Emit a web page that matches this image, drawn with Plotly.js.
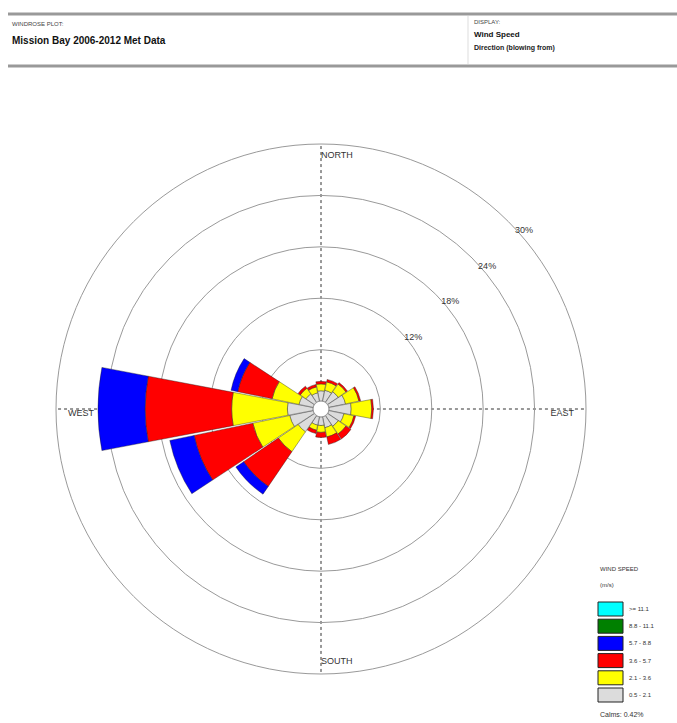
<!DOCTYPE html>
<html>
<head>
<meta charset="utf-8">
<script src="https://cdn.plot.ly/plotly-3.0.1.min.js"></script>
<style>
html,body{margin:0;padding:0;background:#fff;}
#chart{width:677px;height:723px;}
</style>
</head>
<body>
<div id="chart"></div>
<script>
// ---- data ----
const directions = ['N','NNE','NE','ENE','E','ESE','SE','SSE','S','SSW','SW','WSW','W','WNW','NW','NNW'];
const directionDegrees = [0,22.5,45,67.5,90,112.5,135,157.5,180,202.5,225,247.5,270,292.5,315,337.5];
const speedClasses = ['0.5 - 2.1','2.1 - 3.6','3.6 - 5.7','5.7 - 8.8','8.8 - 11.1','>= 11.1'];
const classColors = ['#DCDCDC','#FFFF00','#FF0000','#0000FF','#008000','#00FFFF'];
const freq_05_21  = [1.2,1.3,1.5,2.0,2.6,1.8,1.5,1.3,1.0,1.0,2.3,2.8,3.0,1.7,1.2,1.0];
const freq_21_36  = [0.8,1.0,1.1,1.6,2.4,1.2,1.1,1.1,0.8,0.6,2.8,4.4,6.5,3.2,0.8,0.7];
const freq_36_57  = [0.3,0.3,0.2,0.2,0.2,0.2,0.7,0.9,0.6,0.4,4.9,7.0,10.1,4.1,0.3,0.3];
const freq_57_88  = [0,0,0,0,0,0,0,0,0,0,1.1,2.9,5.5,0.8,0,0];
const freq_88_111 = [0,0,0,0,0,0,0,0,0,0,0,0,0,0,0,0];
const freq_111    = [0,0,0,0,0,0,0,0,0,0,0,0,0,0,0,0];
const ringValues = [6,12,18,24,30];
const ringLabels = ['','12%','18%','24%','30%'];
const compassLabels = ['NORTH','EAST','SOUTH','WEST'];
const compassDegrees = [0,90,180,270];
const calmsText = 'Calms: 0.42%';
const plotTitle = 'Mission Bay 2006-2012 Met Data';
const displayLine1 = 'Wind Speed';
const displayLine2 = 'Direction (blowing from)';

const series = [freq_05_21,freq_21_36,freq_36_57,freq_57_88,freq_88_111,freq_111];
const FONT = 'Liberation Sans, Arial, sans-serif';

const traces = series.map((vals,i)=>({
  type:'barpolar',
  r: vals,
  theta: directionDegrees,
  name: speedClasses[i],
  width: 21.5,
  marker:{color: classColors[i], line:{color:'#222', width:0.4}},
  showlegend:false,
  hoverinfo:'skip'
}));

// compass labels inside the outer ring
traces.push({
  type:'scatterpolar',
  mode:'text',
  r: compassDegrees.map(()=>28.6),
  theta: compassDegrees,
  text: compassLabels,
  textposition: ['middle right','bottom left','middle right','bottom right'],
  textfont:{family:FONT,size:9,color:'#333'},
  showlegend:false,
  hoverinfo:'skip'
});

const W=677,H=723;
const cx=321, cy=409, R=265;

const shapes = [
  {type:'line',xref:'paper',yref:'paper',x0:8/W,x1:1,y0:1-14/H,y1:1-14/H,line:{color:'#999',width:3}},
  {type:'line',xref:'paper',yref:'paper',x0:8/W,x1:1,y0:1-66/H,y1:1-66/H,line:{color:'#999',width:3}},
  {type:'line',xref:'paper',yref:'paper',x0:468/W,x1:468/W,y0:1-16/H,y1:1-64/H,line:{color:'#ddd',width:1}}
];
const annotations = [
  {xref:'paper',yref:'paper',x:10/W,y:1-24/H,text:'WINDROSE PLOT:',showarrow:false,xanchor:'left',yanchor:'middle',font:{family:FONT,size:6,color:'#444'}},
  {xref:'paper',yref:'paper',x:10/W,y:1-40/H,text:'<b>'+plotTitle+'</b>',showarrow:false,xanchor:'left',yanchor:'middle',font:{family:FONT,size:10,color:'#111'}},
  {xref:'paper',yref:'paper',x:472/W,y:1-22/H,text:'DISPLAY:',showarrow:false,xanchor:'left',yanchor:'middle',font:{family:FONT,size:6,color:'#444'}},
  {xref:'paper',yref:'paper',x:472/W,y:1-34/H,text:'<b>'+displayLine1+'</b>',showarrow:false,xanchor:'left',yanchor:'middle',font:{family:FONT,size:8,color:'#111'}},
  {xref:'paper',yref:'paper',x:472/W,y:1-48/H,text:'<b>'+displayLine2+'</b>',showarrow:false,xanchor:'left',yanchor:'middle',font:{family:FONT,size:7,color:'#222'}},
  {xref:'paper',yref:'paper',x:598/W,y:1-569/H,text:'WIND SPEED',showarrow:false,xanchor:'left',yanchor:'middle',font:{family:FONT,size:6,color:'#333'}},
  {xref:'paper',yref:'paper',x:598/W,y:1-585/H,text:'(m/s)',showarrow:false,xanchor:'left',yanchor:'middle',font:{family:FONT,size:6,color:'#333'}},
  {xref:'paper',yref:'paper',x:598/W,y:1-714/H,text:calmsText,showarrow:false,xanchor:'left',yanchor:'middle',font:{family:FONT,size:7,color:'#333'}}
];
// legend boxes (top = fastest class)
for(let k=0;k<speedClasses.length;k++){
  const i = speedClasses.length-1-k;
  const top = 602 + k*17.2;
  shapes.push({type:'rect',xref:'paper',yref:'paper',x0:598/W,x1:623/W,y0:1-top/H,y1:1-(top+14)/H,
    fillcolor:classColors[i],line:{color:'#222',width:1}});
  annotations.push({xref:'paper',yref:'paper',x:627/W,y:1-(top+7)/H,text:speedClasses[i],showarrow:false,
    xanchor:'left',yanchor:'middle',font:{family:FONT,size:6,color:'#333'}});
}

const layout = {
  width:W,height:H,
  margin:{l:0,r:0,t:0,b:0},
  paper_bgcolor:'#fff',
  showlegend:false,
  barmode:'stack',
  font:{family:FONT},
  polar:{
    domain:{x:[(cx-R)/W,(cx+R)/W], y:[(H-cy-R)/H,(H-cy+R)/H]},
    bgcolor:'#fff',
    hole:0.03,
    bargap:0,
    radialaxis:{
      range:[0,30],
      tickvals:ringValues,
      ticktext:ringLabels,
      angle:44,
      tickangle:44,
      showline:false,
      ticks:'',
      gridcolor:'#9a9a9a',
      gridwidth:1,
      tickfont:{family:FONT,size:9,color:'#333'}
    },
    angularaxis:{
      direction:'clockwise',
      rotation:90,
      tickvals:compassDegrees,
      showticklabels:false,
      ticks:'',
      showline:true,
      linecolor:'#9a9a9a',
      linewidth:1,
      gridcolor:'#333',
      griddash:'dot',
      gridwidth:1
    }
  },
  shapes:shapes,
  annotations:annotations
};

Plotly.newPlot('chart', traces, layout, {displayModeBar:false, staticPlot:true});
</script>
</body>
</html>
